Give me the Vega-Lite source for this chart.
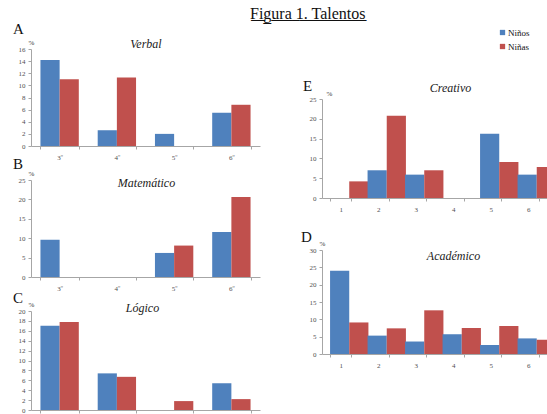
{
  "$schema": "https://vega.github.io/schema/vega-lite/v6.json",
  "padding": {"left": 13, "top": 6, "right": 0, "bottom": 0},
  "background": "white",
  "title": {"text": "F̲i̲g̲u̲r̲a̲ ̲1̲.̲ ̲T̲a̲l̲e̲n̲t̲o̲s̲", "font": "Liberation Serif", "fontSize": 16, "fontWeight": "normal", "fontStyle": "normal", "color": "#111111", "anchor": "start", "frame": "bounds", "dx": 237, "baseline": "bottom", "offset": -16},
  "datasets": {
    "talentos": [
      {"panel": "A", "curso": "3º", "sexo": "Niños", "pct": 14.2},
      {"panel": "A", "curso": "3º", "sexo": "Niñas", "pct": 11.0},
      {"panel": "A", "curso": "4º", "sexo": "Niños", "pct": 2.6},
      {"panel": "A", "curso": "4º", "sexo": "Niñas", "pct": 11.3},
      {"panel": "A", "curso": "5º", "sexo": "Niños", "pct": 2.0},
      {"panel": "A", "curso": "5º", "sexo": "Niñas", "pct": 0},
      {"panel": "A", "curso": "6º", "sexo": "Niños", "pct": 5.5},
      {"panel": "A", "curso": "6º", "sexo": "Niñas", "pct": 6.8},
      {"panel": "B", "curso": "3º", "sexo": "Niños", "pct": 9.6},
      {"panel": "B", "curso": "3º", "sexo": "Niñas", "pct": 0},
      {"panel": "B", "curso": "4º", "sexo": "Niños", "pct": 0},
      {"panel": "B", "curso": "4º", "sexo": "Niñas", "pct": 0},
      {"panel": "B", "curso": "5º", "sexo": "Niños", "pct": 6.2},
      {"panel": "B", "curso": "5º", "sexo": "Niñas", "pct": 8.1},
      {"panel": "B", "curso": "6º", "sexo": "Niños", "pct": 11.6},
      {"panel": "B", "curso": "6º", "sexo": "Niñas", "pct": 20.6},
      {"panel": "C", "curso": "3º", "sexo": "Niños", "pct": 17.0},
      {"panel": "C", "curso": "3º", "sexo": "Niñas", "pct": 17.8},
      {"panel": "C", "curso": "4º", "sexo": "Niños", "pct": 7.4},
      {"panel": "C", "curso": "4º", "sexo": "Niñas", "pct": 6.7},
      {"panel": "C", "curso": "5º", "sexo": "Niños", "pct": 0},
      {"panel": "C", "curso": "5º", "sexo": "Niñas", "pct": 1.8},
      {"panel": "C", "curso": "6º", "sexo": "Niños", "pct": 5.4},
      {"panel": "C", "curso": "6º", "sexo": "Niñas", "pct": 2.2},
      {"panel": "E", "curso": "1", "sexo": "Niños", "pct": 0},
      {"panel": "E", "curso": "1", "sexo": "Niñas", "pct": 4.2},
      {"panel": "E", "curso": "2", "sexo": "Niños", "pct": 7.0},
      {"panel": "E", "curso": "2", "sexo": "Niñas", "pct": 20.8},
      {"panel": "E", "curso": "3", "sexo": "Niños", "pct": 5.9},
      {"panel": "E", "curso": "3", "sexo": "Niñas", "pct": 7.0},
      {"panel": "E", "curso": "4", "sexo": "Niños", "pct": 0},
      {"panel": "E", "curso": "4", "sexo": "Niñas", "pct": 0},
      {"panel": "E", "curso": "5", "sexo": "Niños", "pct": 16.2},
      {"panel": "E", "curso": "5", "sexo": "Niñas", "pct": 9.1},
      {"panel": "E", "curso": "6", "sexo": "Niños", "pct": 5.9},
      {"panel": "E", "curso": "6", "sexo": "Niñas", "pct": 7.8},
      {"panel": "D", "curso": "1", "sexo": "Niños", "pct": 24.0},
      {"panel": "D", "curso": "1", "sexo": "Niñas", "pct": 9.1},
      {"panel": "D", "curso": "2", "sexo": "Niños", "pct": 5.3},
      {"panel": "D", "curso": "2", "sexo": "Niñas", "pct": 7.4},
      {"panel": "D", "curso": "3", "sexo": "Niños", "pct": 3.6},
      {"panel": "D", "curso": "3", "sexo": "Niñas", "pct": 12.6},
      {"panel": "D", "curso": "4", "sexo": "Niños", "pct": 5.7},
      {"panel": "D", "curso": "4", "sexo": "Niñas", "pct": 7.5},
      {"panel": "D", "curso": "5", "sexo": "Niños", "pct": 2.6},
      {"panel": "D", "curso": "5", "sexo": "Niñas", "pct": 8.1},
      {"panel": "D", "curso": "6", "sexo": "Niños", "pct": 4.5},
      {"panel": "D", "curso": "6", "sexo": "Niñas", "pct": 4.1}
    ]
  },
  "spacing": 41,
  "resolve": {"scale": {"color": "independent"}, "legend": {"color": "independent"}},
  "hconcat": [
    {
      "bounds": "flush",
      "spacing": 34,
      "vconcat": [
        {
          "width": 229, "height": 97,
          "data": {"name": "talentos"},
          "transform": [{"filter": "datum.panel == 'A'"}],
          "title": {"text": "A", "offset": 0},
          "mark": {"type": "bar"},
          "encoding": {
            "x": {"field": "curso", "type": "nominal", "scale": {"domain": ["3º", "4º", "5º", "6º"], "paddingInner": 0.33, "paddingOuter": 0.165}, "axis": {"title": "Verbal", "titleX": 114.5, "titleY": -103}},
            "xOffset": {"field": "sexo", "type": "nominal", "scale": {"domain": ["Niños", "Niñas"]}},
            "y": {"field": "pct", "type": "quantitative", "scale": {"domain": [0, 16]}, "axis": {"values": [0, 2, 4, 6, 8, 10, 12, 14, 16], "title": "%"}},
            "color": {"field": "sexo", "type": "nominal", "scale": {"domain": ["Niños", "Niñas"], "range": ["#4F81BD", "#C0504D"]}, "legend": null}
          }
        },
        {
          "width": 229, "height": 97,
          "data": {"name": "talentos"},
          "transform": [{"filter": "datum.panel == 'B'"}],
          "title": {"text": "B", "offset": -2.5},
          "mark": {"type": "bar"},
          "encoding": {
            "x": {"field": "curso", "type": "nominal", "scale": {"domain": ["3º", "4º", "5º", "6º"], "paddingInner": 0.33, "paddingOuter": 0.165}, "axis": {"title": "Matemático", "titleX": 115, "titleY": -95}},
            "xOffset": {"field": "sexo", "type": "nominal", "scale": {"domain": ["Niños", "Niñas"]}},
            "y": {"field": "pct", "type": "quantitative", "scale": {"domain": [0, 25]}, "axis": {"values": [0, 5, 10, 15, 20, 25], "title": "%"}},
            "color": {"field": "sexo", "type": "nominal", "scale": {"domain": ["Niños", "Niñas"], "range": ["#4F81BD", "#C0504D"]}, "legend": null}
          }
        },
        {
          "width": 229, "height": 99,
          "data": {"name": "talentos"},
          "transform": [{"filter": "datum.panel == 'C'"}],
          "title": {"text": "C", "offset": -5.5},
          "mark": {"type": "bar"},
          "encoding": {
            "x": {"field": "curso", "type": "nominal", "scale": {"domain": ["3º", "4º", "5º", "6º"], "paddingInner": 0.33, "paddingOuter": 0.165}, "axis": {"title": "Lógico", "titleX": 111, "titleY": -103, "labels": false}},
            "xOffset": {"field": "sexo", "type": "nominal", "scale": {"domain": ["Niños", "Niñas"]}},
            "y": {"field": "pct", "type": "quantitative", "scale": {"domain": [0, 20]}, "axis": {"values": [0, 2, 4, 6, 8, 10, 12, 14, 16, 18, 20], "title": "%"}},
            "color": {"field": "sexo", "type": "nominal", "scale": {"domain": ["Niños", "Niñas"], "range": ["#4F81BD", "#C0504D"]}, "legend": null}
          }
        }
      ]
    },
    {
      "bounds": "flush",
      "spacing": 52,
      "vconcat": [
        {
          "width": 225, "height": 149,
          "data": {"name": "talentos"},
          "transform": [{"filter": "datum.panel == 'E'"}],
          "title": {"text": "E", "offset": -45, "dx": -19},
          "mark": {"type": "bar"},
          "encoding": {
            "x": {"field": "curso", "type": "nominal", "scale": {"domain": ["1", "2", "3", "4", "5", "6"], "paddingInner": 0.43, "paddingOuter": 0.215}, "axis": {"title": "Creativo", "titleX": 128, "titleY": -111}},
            "xOffset": {"field": "sexo", "type": "nominal", "scale": {"domain": ["Niños", "Niñas"]}},
            "y": {"field": "pct", "type": "quantitative", "scale": {"domain": [0, 25], "range": [149, 50]}, "axis": {"values": [0, 5, 10, 15, 20, 25], "title": "%", "titleX": 7, "titleY": 44}},
            "color": {"field": "sexo", "type": "nominal", "scale": {"domain": ["Niños", "Niñas"], "range": ["#4F81BD", "#C0504D"]}, "legend": {"title": null}}
          }
        },
        {
          "width": 225, "height": 104,
          "data": {"name": "talentos"},
          "transform": [{"filter": "datum.panel == 'D'"}],
          "title": {"text": "D", "offset": -6, "dx": -21},
          "mark": {"type": "bar"},
          "encoding": {
            "x": {"field": "curso", "type": "nominal", "scale": {"domain": ["1", "2", "3", "4", "5", "6"], "paddingInner": 0.43, "paddingOuter": 0.215}, "axis": {"title": "Académico", "titleX": 131, "titleY": -99}},
            "xOffset": {"field": "sexo", "type": "nominal", "scale": {"domain": ["Niños", "Niñas"]}},
            "y": {"field": "pct", "type": "quantitative", "scale": {"domain": [0, 30]}, "axis": {"values": [0, 5, 10, 15, 20, 25, 30], "title": "%"}},
            "color": {"field": "sexo", "type": "nominal", "scale": {"domain": ["Niños", "Niñas"], "range": ["#4F81BD", "#C0504D"]}, "legend": {"title": null}}
          }
        }
      ]
    }
  ],
  "config": {
    "view": {"stroke": null},
    "title": {"font": "Liberation Serif", "fontSize": 15, "fontStyle": "normal", "fontWeight": "normal", "color": "#111111", "baseline": "alphabetic", "anchor": "start", "frame": "group", "dx": -18},
    "axis": {"grid": false, "domainColor": "#a6a6a6", "tickColor": "#a6a6a6", "tickSize": 3, "labelFont": "Liberation Serif", "labelFontSize": 7, "labelColor": "#505050"},
    "axisX": {"labelAngle": 0, "labelPadding": 4, "tickBand": "extent", "titleFont": "Liberation Serif", "titleFontSize": 12, "titleFontStyle": "italic", "titleFontWeight": "normal", "titleColor": "#222222", "titleAlign": "center", "titleBaseline": "middle", "titleAnchor": null},
    "axisY": {"labelPadding": 3, "titleFont": "Liberation Serif", "titleFontSize": 7, "titleFontWeight": "normal", "titleColor": "#333333", "titleAngle": 0, "titleX": 0, "titleY": -7, "titleAlign": "center", "titleBaseline": "middle"},
    "legend": {"orient": "none", "legendX": 173, "legendY": -24, "padding": 3, "symbolType": "square", "symbolSize": 28, "symbolStrokeWidth": 0, "labelFont": "Liberation Serif", "labelFontSize": 9, "labelColor": "#111111", "labelOffset": 1, "rowPadding": 4}
  }
}
